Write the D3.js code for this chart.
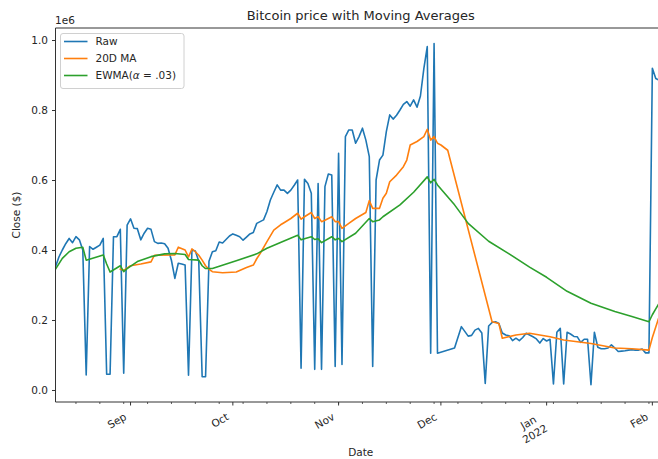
<!DOCTYPE html>
<html>
<head>
<meta charset="utf-8">
<script src="https://cdn.jsdelivr.net/npm/d3@7"></script>
<style>
  body { margin: 0; background: #fff; }
  svg { display: block; font-family: "DejaVu Sans", sans-serif; }
</style>
</head>
<body>
<svg id="chart" width="658" height="459"></svg>
<script>
// Closing prices, in units of 1e6 $
const rawDates = [
  "2021-08-10","2021-08-11","2021-08-12","2021-08-13","2021-08-14","2021-08-15","2021-08-16","2021-08-17",
  "2021-08-18","2021-08-19","2021-08-20","2021-08-21","2021-08-22","2021-08-23","2021-08-24","2021-08-25",
  "2021-08-26","2021-08-27","2021-08-28","2021-08-29","2021-08-30","2021-08-31","2021-09-01","2021-09-02",
  "2021-09-03","2021-09-04","2021-09-05","2021-09-06","2021-09-07","2021-09-08","2021-09-09","2021-09-10",
  "2021-09-11","2021-09-12","2021-09-13","2021-09-14","2021-09-15","2021-09-16","2021-09-17","2021-09-18",
  "2021-09-19","2021-09-20","2021-09-21","2021-09-22","2021-09-23","2021-09-24","2021-09-25","2021-09-26",
  "2021-09-27","2021-09-28","2021-09-29","2021-09-30","2021-10-01","2021-10-02","2021-10-03","2021-10-04",
  "2021-10-05","2021-10-06","2021-10-07","2021-10-08","2021-10-09","2021-10-10","2021-10-11","2021-10-12",
  "2021-10-13","2021-10-14","2021-10-15","2021-10-16","2021-10-17","2021-10-18","2021-10-19","2021-10-20",
  "2021-10-21","2021-10-22","2021-10-23","2021-10-24","2021-10-25","2021-10-26","2021-10-27","2021-10-28",
  "2021-10-29","2021-10-30","2021-10-31","2021-11-01","2021-11-02","2021-11-03","2021-11-04","2021-11-05",
  "2021-11-06","2021-11-07","2021-11-08","2021-11-09","2021-11-10","2021-11-11","2021-11-12","2021-11-13",
  "2021-11-14","2021-11-15","2021-11-16","2021-11-17","2021-11-18","2021-11-19","2021-11-20","2021-11-21",
  "2021-11-22","2021-11-23","2021-11-24","2021-11-25","2021-11-26","2021-11-27","2021-11-28","2021-11-29",
  "2021-11-30","2021-12-05","2021-12-07","2021-12-09","2021-12-10","2021-12-11","2021-12-12","2021-12-13",
  "2021-12-14","2021-12-15","2021-12-16","2021-12-17","2021-12-18","2021-12-19","2021-12-20","2021-12-21",
  "2021-12-22","2021-12-23","2021-12-24","2021-12-25","2021-12-26","2021-12-27","2021-12-28","2021-12-29",
  "2021-12-30","2021-12-31","2022-01-01","2022-01-02","2022-01-03","2022-01-04","2022-01-05","2022-01-06",
  "2022-01-07","2022-01-08","2022-01-09","2022-01-10","2022-01-11","2022-01-12","2022-01-13","2022-01-14",
  "2022-01-15","2022-01-16","2022-01-17","2022-01-18","2022-01-19","2022-01-20","2022-01-21","2022-01-22",
  "2022-01-23","2022-01-24","2022-01-25","2022-01-26","2022-01-27","2022-01-28","2022-01-29","2022-01-30",
  "2022-01-31","2022-02-01","2022-02-02","2022-02-03"
];
const rawClose = [
  0.352,0.380,0.400,0.418,0.433,0.421,0.438,0.429,
  0.400,0.043,0.410,0.402,0.408,0.414,0.433,0.045,
  0.045,0.438,0.438,0.459,0.048,0.471,0.489,0.462,
  0.461,0.429,0.448,0.462,0.459,0.424,0.419,0.420,
  0.418,0.405,0.370,0.319,0.362,0.360,0.357,0.042,
  0.400,0.397,0.368,0.038,0.038,0.368,0.395,0.398,
  0.423,0.420,0.430,0.440,0.446,0.442,0.438,0.428,
  0.437,0.446,0.450,0.476,0.481,0.486,0.510,0.543,
  0.565,0.586,0.571,0.571,0.562,0.571,0.585,0.600,
  0.062,0.602,0.590,0.562,0.059,0.590,0.059,0.581,
  0.617,0.614,0.067,0.676,0.073,0.724,0.743,0.743,
  0.705,0.724,0.748,0.714,0.667,0.067,0.600,0.657,
  0.671,0.738,0.786,0.774,0.785,0.800,0.816,0.824,
  0.811,0.829,0.808,0.840,0.918,0.981,0.105,0.990,
  0.105,0.120,0.181,0.154,0.156,0.171,0.176,0.163,
  0.019,0.183,0.193,0.195,0.190,0.163,0.157,0.155,
  0.141,0.148,0.141,0.150,0.162,0.157,0.152,0.146,
  0.134,0.147,0.140,0.145,0.017,0.165,0.176,0.017,
  0.165,0.160,0.153,0.152,0.136,0.145,0.145,0.015,
  0.165,0.122,0.118,0.118,0.120,0.129,0.120,0.110,
  0.111,0.112,0.114,0.115,0.114,0.114,0.117,0.106,
  0.106,0.919,0.890,0.885
];

// 20-day moving average
const maDates = [
  "2021-08-29","2021-08-30","2021-09-01","2021-09-04","2021-09-07","2021-09-08","2021-09-14","2021-09-15",
  "2021-09-17","2021-09-18","2021-09-19","2021-09-20","2021-09-21","2021-09-22","2021-09-23","2021-09-24",
  "2021-09-25","2021-09-28","2021-10-02","2021-10-05","2021-10-07","2021-10-08","2021-10-09","2021-10-11",
  "2021-10-13","2021-10-15","2021-10-16","2021-10-18","2021-10-20","2021-10-21","2021-10-22","2021-10-24",
  "2021-10-25","2021-10-26","2021-10-27","2021-10-28","2021-10-29","2021-10-30","2021-10-31","2021-11-01",
  "2021-11-02","2021-11-04","2021-11-06","2021-11-09","2021-11-10","2021-11-11","2021-11-13","2021-11-14",
  "2021-11-15","2021-11-16","2021-11-18","2021-11-20","2021-11-21","2021-11-22","2021-11-24","2021-11-26",
  "2021-11-27","2021-11-28","2021-11-29","2021-11-30","2021-12-01","2021-12-03","2021-12-16","2021-12-18",
  "2021-12-19","2021-12-23","2021-12-27","2022-01-02","2022-01-06","2022-01-14","2022-01-21","2022-01-26",
  "2022-01-31","2022-02-01","2022-02-02","2022-02-03"
];
const maClose = [
  0.345,0.342,0.355,0.360,0.366,0.385,0.386,0.408,
  0.400,0.380,0.403,0.395,0.385,0.371,0.355,0.345,
  0.338,0.335,0.337,0.350,0.357,0.375,0.390,0.424,
  0.457,0.472,0.478,0.490,0.505,0.488,0.495,0.507,
  0.490,0.495,0.481,0.485,0.490,0.495,0.481,0.481,
  0.462,0.476,0.490,0.507,0.541,0.519,0.519,0.548,
  0.562,0.595,0.614,0.638,0.657,0.700,0.710,0.724,
  0.745,0.714,0.724,0.705,0.700,0.685,0.195,0.190,
  0.148,0.157,0.162,0.152,0.143,0.133,0.120,0.118,
  0.114,0.150,0.180,0.210
];

// exponentially weighted moving average, alpha = .03
const ewmaDates = [
  "2021-08-10","2021-08-12","2021-08-14","2021-08-16","2021-08-18","2021-08-19","2021-08-24","2021-08-25",
  "2021-08-26","2021-08-29","2021-08-30","2021-08-31","2021-09-03","2021-09-07","2021-09-11","2021-09-14",
  "2021-09-17","2021-09-18","2021-09-21","2021-09-22","2021-09-23","2021-09-25","2021-10-02","2021-10-08",
  "2021-10-11","2021-10-16","2021-10-20","2021-10-21","2021-10-24","2021-10-25","2021-10-26","2021-10-27",
  "2021-10-30","2021-10-31","2021-11-01","2021-11-02","2021-11-06","2021-11-10","2021-11-11","2021-11-13",
  "2021-11-14","2021-11-19","2021-11-23","2021-11-27","2021-11-28","2021-11-29","2021-11-30","2021-12-05",
  "2021-12-09","2021-12-15","2021-12-21","2021-12-27","2022-01-01","2022-01-07","2022-01-14","2022-01-21",
  "2022-01-26","2022-01-31","2022-02-01","2022-02-02","2022-02-03"
];
const ewmaClose = [
  0.345,0.376,0.395,0.405,0.408,0.371,0.386,0.360,
  0.337,0.355,0.338,0.347,0.367,0.381,0.389,0.390,
  0.387,0.373,0.371,0.355,0.347,0.347,0.369,0.389,
  0.405,0.426,0.442,0.429,0.438,0.430,0.432,0.421,
  0.438,0.429,0.433,0.424,0.448,0.490,0.481,0.486,
  0.495,0.529,0.565,0.609,0.592,0.602,0.586,0.529,
  0.476,0.425,0.389,0.351,0.322,0.282,0.248,0.224,
  0.210,0.195,0.215,0.232,0.248
];

const yTicks = [0.0, 0.2, 0.4, 0.6, 0.8, 1.0];
const monthTicks = ["2021-09-01","2021-10-01","2021-11-01","2021-12-01","2022-01-01","2022-02-01"];
const monthLabels = [["Sep"],["Oct"],["Nov"],["Dec"],["Jan","2022"],["Feb"]];
const seriesNames = ["Raw", "20D MA", "EWMA"];
const seriesColors = ["#1f77b4", "#ff7f0e", "#2ca02c"];

const parse = d3.timeParse("%Y-%m-%d");
const zip = (ds, vs) => ds.map((d, i) => ({ date: parse(d), v: vs[i] }));
const series = [zip(rawDates, rawClose), zip(maDates, maClose), zip(ewmaDates, ewmaClose)];

const svg = d3.select("#chart");
const P = { left: 55.5, right: 666, top: 28, bottom: 402 };
const FONT = 10.5;
const TXT = "#262626";

const x = d3.scaleTime()
  .domain([parse("2021-08-10"), parse("2022-02-05")])
  .range([P.left, P.right]);
const y = d3.scaleLinear()
  .domain([-0.0343, 1.0343])
  .range([P.bottom, P.top]);

svg.append("defs").append("clipPath").attr("id", "plotclip")
  .append("rect").attr("x", P.left).attr("y", P.top)
  .attr("width", P.right - P.left).attr("height", P.bottom - P.top);

// series lines
const line = d3.line().x(d => x(d.date)).y(d => y(d.v));
svg.append("g").attr("clip-path", "url(#plotclip)")
  .selectAll("path").data(series).join("path")
  .attr("d", line)
  .attr("fill", "none")
  .attr("stroke", (d, i) => seriesColors[i])
  .attr("stroke-width", 1.6)
  .attr("stroke-linejoin", "round")
  .attr("stroke-linecap", "square");

// y axis
const yAxis = svg.append("g").attr("transform", `translate(${P.left},0)`)
  .call(d3.axisLeft(y).tickValues(yTicks).tickFormat(d3.format(".1f"))
    .tickSize(3.5).tickPadding(4));
yAxis.select(".domain").remove();
yAxis.selectAll("line").attr("stroke", "#333");
yAxis.selectAll("text").attr("fill", TXT).style("font-size", FONT + "px")
  .style("font-family", "DejaVu Sans");

// x axis: weekly minor ticks, monthly major ticks
const xg = svg.append("g").attr("transform", `translate(0,${P.bottom})`);
const minor = d3.timeMonday.range(x.domain()[0], x.domain()[1]);
xg.selectAll("line.minor").data(minor).join("line").attr("class", "minor")
  .attr("x1", d => x(d)).attr("x2", d => x(d)).attr("y1", 0).attr("y2", 2)
  .attr("stroke", "#333").attr("stroke-width", 0.8);
const majors = monthTicks.map(parse);
xg.selectAll("line.major").data(majors).join("line").attr("class", "major")
  .attr("x1", d => x(d)).attr("x2", d => x(d)).attr("y1", 0).attr("y2", 3.5)
  .attr("stroke", "#333").attr("stroke-width", 1);

// rotated month labels, block right-aligned at the tick
const lineH = FONT * 1.25;
majors.forEach((d, i) => {
  const lines = monthLabels[i];
  const ox = x(d) - 3.25 - (lines.length - 1) * lineH * 0.12;
  const oy = P.bottom + 17;
  const g = svg.append("g").attr("transform", `translate(${ox},${oy}) rotate(-30)`);
  const texts = lines.map((s, k) => g.append("text").text(s)
    .attr("y", k * lineH).attr("fill", TXT)
    .style("font-size", FONT + "px"));
  const widths = texts.map(t => t.node().getComputedTextLength());
  const wMax = Math.max(...widths);
  texts.forEach(t => t.attr("x", -wMax / 2).attr("text-anchor", "middle"));
});

// spines
const spine = svg.append("g").attr("stroke", "#333").attr("stroke-width", 1).attr("fill", "none");
spine.append("line").attr("x1", P.left).attr("x2", P.left).attr("y1", P.top).attr("y2", P.bottom);
spine.append("line").attr("x1", P.left).attr("x2", P.right).attr("y1", P.bottom).attr("y2", P.bottom);
spine.append("line").attr("x1", P.left).attr("x2", P.right).attr("y1", P.top).attr("y2", P.top);
spine.append("line").attr("x1", P.right).attr("x2", P.right).attr("y1", P.top).attr("y2", P.bottom);

// title, offset text and axis labels
const cx = (P.left + P.right) / 2;
svg.append("text").text("Bitcoin price with Moving Averages")
  .attr("x", cx).attr("y", 19.5).attr("text-anchor", "middle")
  .attr("fill", TXT).style("font-size", "13px");
svg.append("text").text("1e6").attr("x", P.left - 0.5).attr("y", 24)
  .attr("fill", TXT).style("font-size", FONT + "px");
svg.append("text").text("Date").attr("x", cx).attr("y", 456)
  .attr("text-anchor", "middle").attr("fill", TXT).style("font-size", FONT + "px");
svg.append("text").text("Close ($)")
  .attr("transform", `translate(20,${(P.top + P.bottom) / 2}) rotate(-90)`)
  .attr("text-anchor", "middle").attr("fill", TXT).style("font-size", FONT + "px");

// legend
const leg = svg.append("g");
leg.append("rect").attr("x", 60.5).attr("y", 33.5).attr("width", 123.5).attr("height", 55)
  .attr("rx", 2.5).attr("fill", "#fff").attr("fill-opacity", 0.8)
  .attr("stroke", "#d0d0d0").attr("stroke-width", 1);
const rowsY = [41.5, 58.5, 75.5];
seriesNames.forEach((name, i) => {
  leg.append("line").attr("x1", 64).attr("x2", 87.5).attr("y1", rowsY[i]).attr("y2", rowsY[i])
    .attr("stroke", seriesColors[i]).attr("stroke-width", 1.6);
  const t = leg.append("text").attr("x", 95.5).attr("y", rowsY[i]).attr("dy", "0.36em")
    .attr("fill", TXT).style("font-size", FONT + "px");
  if (name === "EWMA") {
    t.append("tspan").text("EWMA(");
    t.append("tspan").text("α").style("font-style", "italic");
    t.append("tspan").text(" = .03)");
  } else {
    t.text(name);
  }
});
</script>
</body>
</html>
